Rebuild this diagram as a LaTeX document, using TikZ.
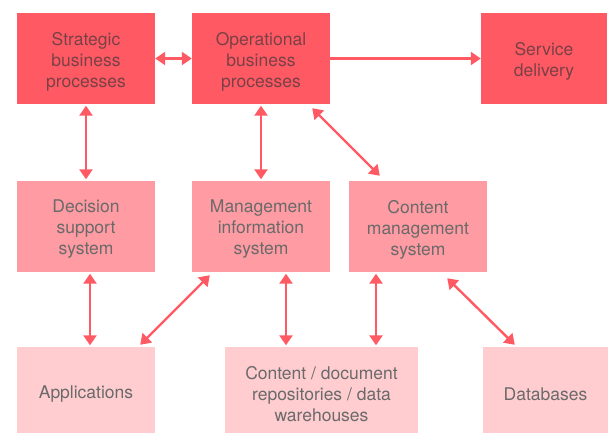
\documentclass[tikz,border=0pt]{standalone}
\usepackage{fontspec}
\setmainfont{TeX Gyre Heros}
\usetikzlibrary{arrows.meta,calc}
\definecolor{topc}{HTML}{FF5A64}
\definecolor{midc}{HTML}{FF9BA2}
\definecolor{botc}{HTML}{FFCDD0}
\definecolor{toptext}{HTML}{7A4046}
\definecolor{txt}{HTML}{6A6A6A}
\definecolor{arr}{HTML}{FF5A64}
\tikzset{
  box/.style={inner sep=0pt},
  lbl/.style={align=center,inner sep=0pt,font=\fontsize{17.5}{21}\selectfont},
  topbox/.style={box,fill=topc},
  midbox/.style={box,fill=midc},
  botbox/.style={box,fill=botc},
  toplbl/.style={lbl,text=toptext,yshift=-3pt},
  midlbl/.style={lbl,text=txt,yshift=-3pt},
  botlbl/.style={lbl,text=txt,yshift=-4pt},
  link/.style={draw=arr,line width=2.4pt,{Triangle[width=13pt,length=10pt]}-{Triangle[width=13pt,length=10pt]}},
  onelink/.style={draw=arr,line width=2.4pt,-{Triangle[width=13pt,length=10pt]}}
}
\begin{document}
\begin{tikzpicture}[x=1pt,y=-1pt]
\useasboundingbox (0,0) rectangle (608,433);
% top row
\node[topbox,minimum width=138pt,minimum height=91pt,label={[toplbl]center:Strategic\\business\\processes}] (strat) at (86,58.5) {};
\node[topbox,minimum width=138pt,minimum height=91pt,label={[toplbl]center:Operational\\business\\processes}] (op) at (261,58.5) {};
\node[topbox,minimum width=126pt,minimum height=91pt,label={[toplbl]center:Service\\delivery}] (serv) at (544,58.5) {};
% middle row
\node[midbox,minimum width=138pt,minimum height=91pt,label={[midlbl]center:Decision\\support\\system}] (dec) at (86,226.5) {};
\node[midbox,minimum width=138pt,minimum height=91pt,label={[midlbl]center:Management\\information\\system}] (mis) at (261,226.5) {};
\node[midbox,minimum width=138pt,minimum height=91pt,label={[midlbl]center:Content\\management\\system}] (cms) at (418,226.5) {};
% bottom row
\node[botbox,minimum width=138pt,minimum height=86pt,label={[botlbl]center:Applications}] (app) at (86,390) {};
\node[botbox,minimum width=193pt,minimum height=86pt,label={[botlbl]center:Content / document\\repositories / data\\warehouses}] (cd) at (321.5,390) {};
\node[botbox,minimum width=125pt,minimum height=86pt,label={[botlbl]center:Databases}] (db) at (545.5,390) {};
% connectors
\draw[link] (strat.east) -- (op.west);
\draw[onelink] (op.east) -- (serv.west);
\draw[link,shorten <=1.5pt,shorten >=1.5pt] (strat.south) -- (dec.north);
\draw[link,shorten <=1.5pt,shorten >=1.5pt] (op.south) -- (mis.north);
\draw[link] ($(op.south east)+(-18,4)$) -- ($(cms.north west)+(31,-5)$);
\draw[link,shorten <=1.5pt,shorten >=1.5pt] ([xshift=4pt]dec.south) -- ([xshift=4pt]dec.south |- app.north);
\draw[link] ($(mis.south west)+(18,3)$) -- ($(app.north east)+(-15,-2)$);
\draw[link,shorten <=1.5pt,shorten >=1.5pt] ([xshift=25pt]mis.south) -- ([xshift=25pt]mis.south |- cd.north);
\draw[link,shorten <=1.5pt,shorten >=1.5pt] ([xshift=-42pt]cms.south) -- ([xshift=-42pt]cms.south |- cd.north);
\draw[link] ($(cms.south east)+(-40,6)$) -- ($(db.north west)+(32,-2)$);
\end{tikzpicture}
\end{document}
